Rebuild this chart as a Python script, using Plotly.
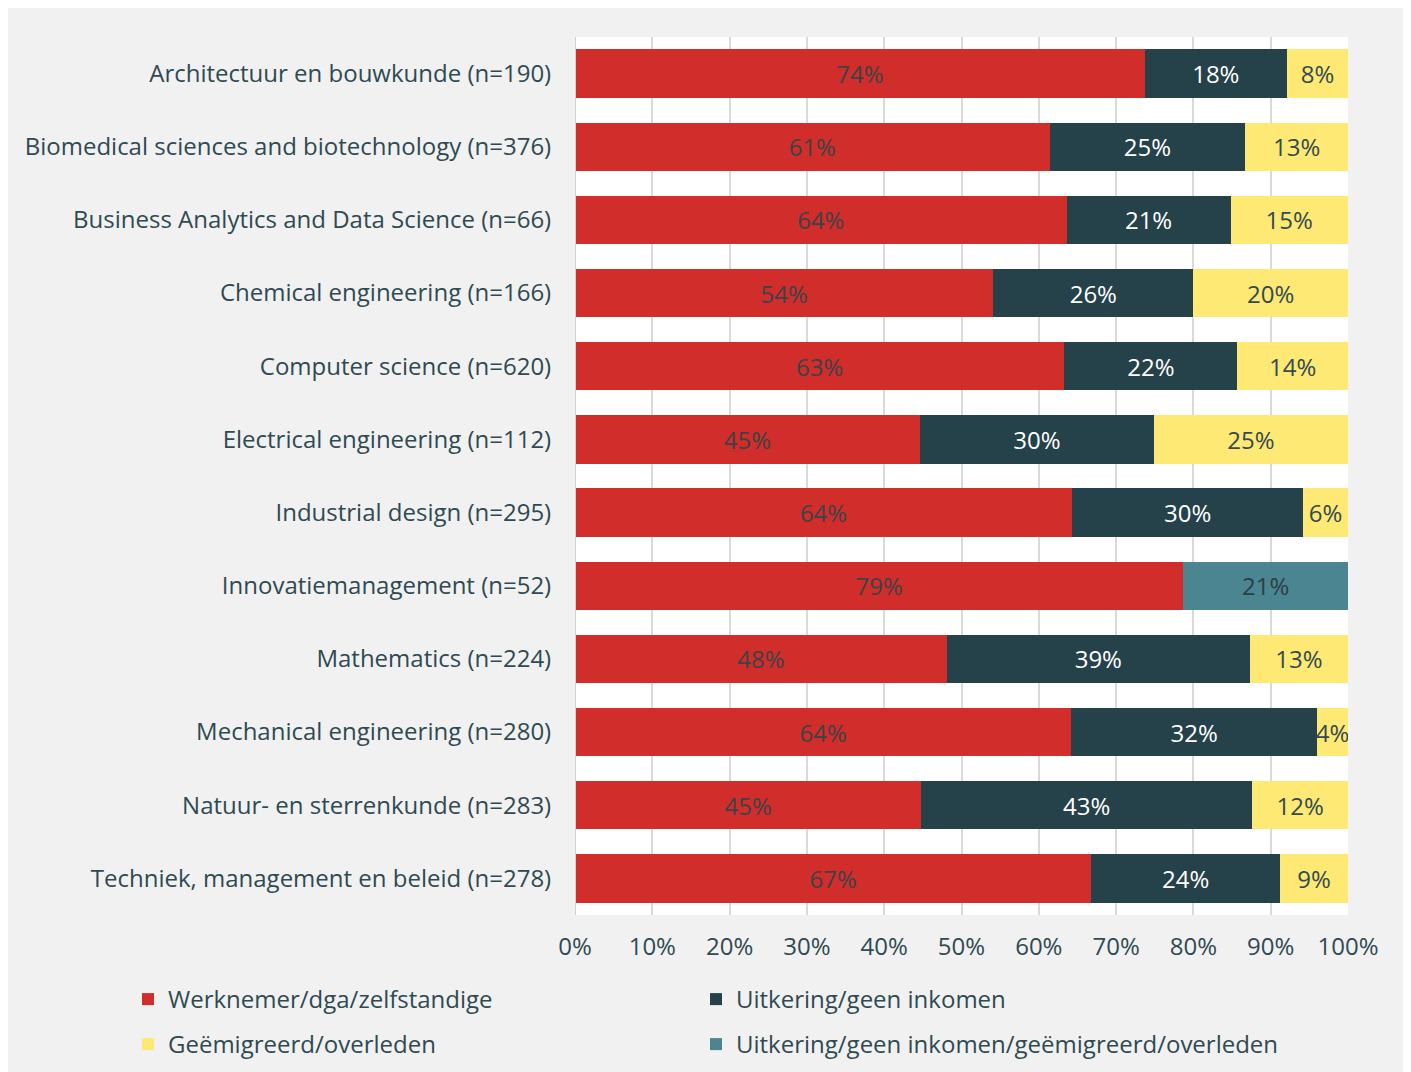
import plotly.graph_objects as go

categories = [
    "Architectuur en bouwkunde (n=190)",
    "Biomedical sciences and biotechnology (n=376)",
    "Business Analytics and Data Science (n=66)",
    "Chemical engineering (n=166)",
    "Computer science (n=620)",
    "Electrical engineering (n=112)",
    "Industrial design (n=295)",
    "Innovatiemanagement (n=52)",
    "Mathematics (n=224)",
    "Mechanical engineering (n=280)",
    "Natuur- en sterrenkunde (n=283)",
    "Techniek, management en beleid (n=278)",
]
werknemer = [73.7, 61.4, 63.6, 54.1, 63.3, 44.6, 64.3, 78.7, 48.1, 64.2, 44.8, 66.8]
uitkering = [18.4, 25.3, 21.2, 25.9, 22.4, 30.3, 29.9, None, 39.2, 31.8, 42.8, 24.4]
geemigreerd = [7.9, 13.3, 15.2, 20.0, 14.3, 25.1, 5.8, None, 12.7, 4.0, 12.4, 8.8]
uitk_geem = [None, None, None, None, None, None, None, 21.3, None, None, None, None]
tick_vals = [0, 10, 20, 30, 40, 50, 60, 70, 80, 90, 100]
tick_text = ["0%", "10%", "20%", "30%", "40%", "50%", "60%", "70%", "80%", "90%", "100%"]

FONT = "Open Sans"
FS = 24
TXT = "#2f4a52"
OFF = 8  # default page body margin
W, H = 1411 - OFF, 1072 - OFF

# (name, values, bar colour, label colour, legend id, legend x px, legend y px)
series = [
    ("Werknemer/dga/zelfstandige", werknemer, "#d12d2b", "#3b4347", "legend", 128, 977),
    ("Uitkering/geen inkomen", uitkering, "#25414a", "#ffffff", "legend2", 696, 977),
    ("Geëmigreerd/overleden", geemigreerd, "#fde974", "#344a50", "legend3", 128, 1022),
    ("Uitkering/geen inkomen/geëmigreerd/overleden", uitk_geem, "#4a8591", "#2a3f45", "legend4", 696, 1022),
]

fig = go.Figure()
legends = {}
for name, vals, color, tcolor, lg, lx, ly in series:
    fig.add_trace(go.Bar(
        y=categories, x=vals, name=name, orientation="h",
        marker=dict(color=color, line=dict(width=0)),
        texttemplate="%{x:.0f}%", textposition="inside", textangle=0,
        insidetextanchor="middle", constraintext="none",
        textfont=dict(family=FONT, size=FS, color=tcolor),
        hoverinfo="skip", legend=lg, showlegend=True,
    ))
    legends[lg] = dict(
        orientation="h", xref="container", yref="container",
        x=(lx - OFF) / W, y=1 - (ly - OFF) / H, xanchor="left", yanchor="top",
        itemwidth=30, bgcolor="rgba(0,0,0,0)",
        font=dict(family=FONT, size=FS, color=TXT),
    )

fig.update_layout(
    width=W, height=H, showlegend=True,
    barmode="stack", bargap=0.34,
    paper_bgcolor="#f1f1f1", plot_bgcolor="#ffffff",
    margin=dict(l=575 - OFF, r=1411 - 1348, t=37 - OFF, b=1072 - 915, autoexpand=False),
    font=dict(family=FONT, size=FS, color=TXT),
    uniformtext=dict(minsize=FS, mode="show"),
    xaxis=dict(range=[0, 100], tickvals=tick_vals, ticktext=tick_text,
               showgrid=True, gridcolor="#d9d9d9", gridwidth=2,
               zeroline=False, showline=False, ticks="outside", ticklen=10,
               tickcolor="rgba(0,0,0,0)",
               tickfont=dict(family=FONT, size=FS, color=TXT)),
    yaxis=dict(categoryorder="array", categoryarray=categories, autorange="reversed",
               showgrid=False, zeroline=False, showline=False, ticks="outside",
               ticklen=18, tickcolor="rgba(0,0,0,0)",
               tickfont=dict(family=FONT, size=FS, color=TXT)),
    shapes=[
        dict(type="line", xref="x", yref="paper", x0=0, x1=0, y0=0, y1=1,
             line=dict(color="#d0d0d0", width=2)),
    ],
    **legends,
)

fig.write_html("out.html")
